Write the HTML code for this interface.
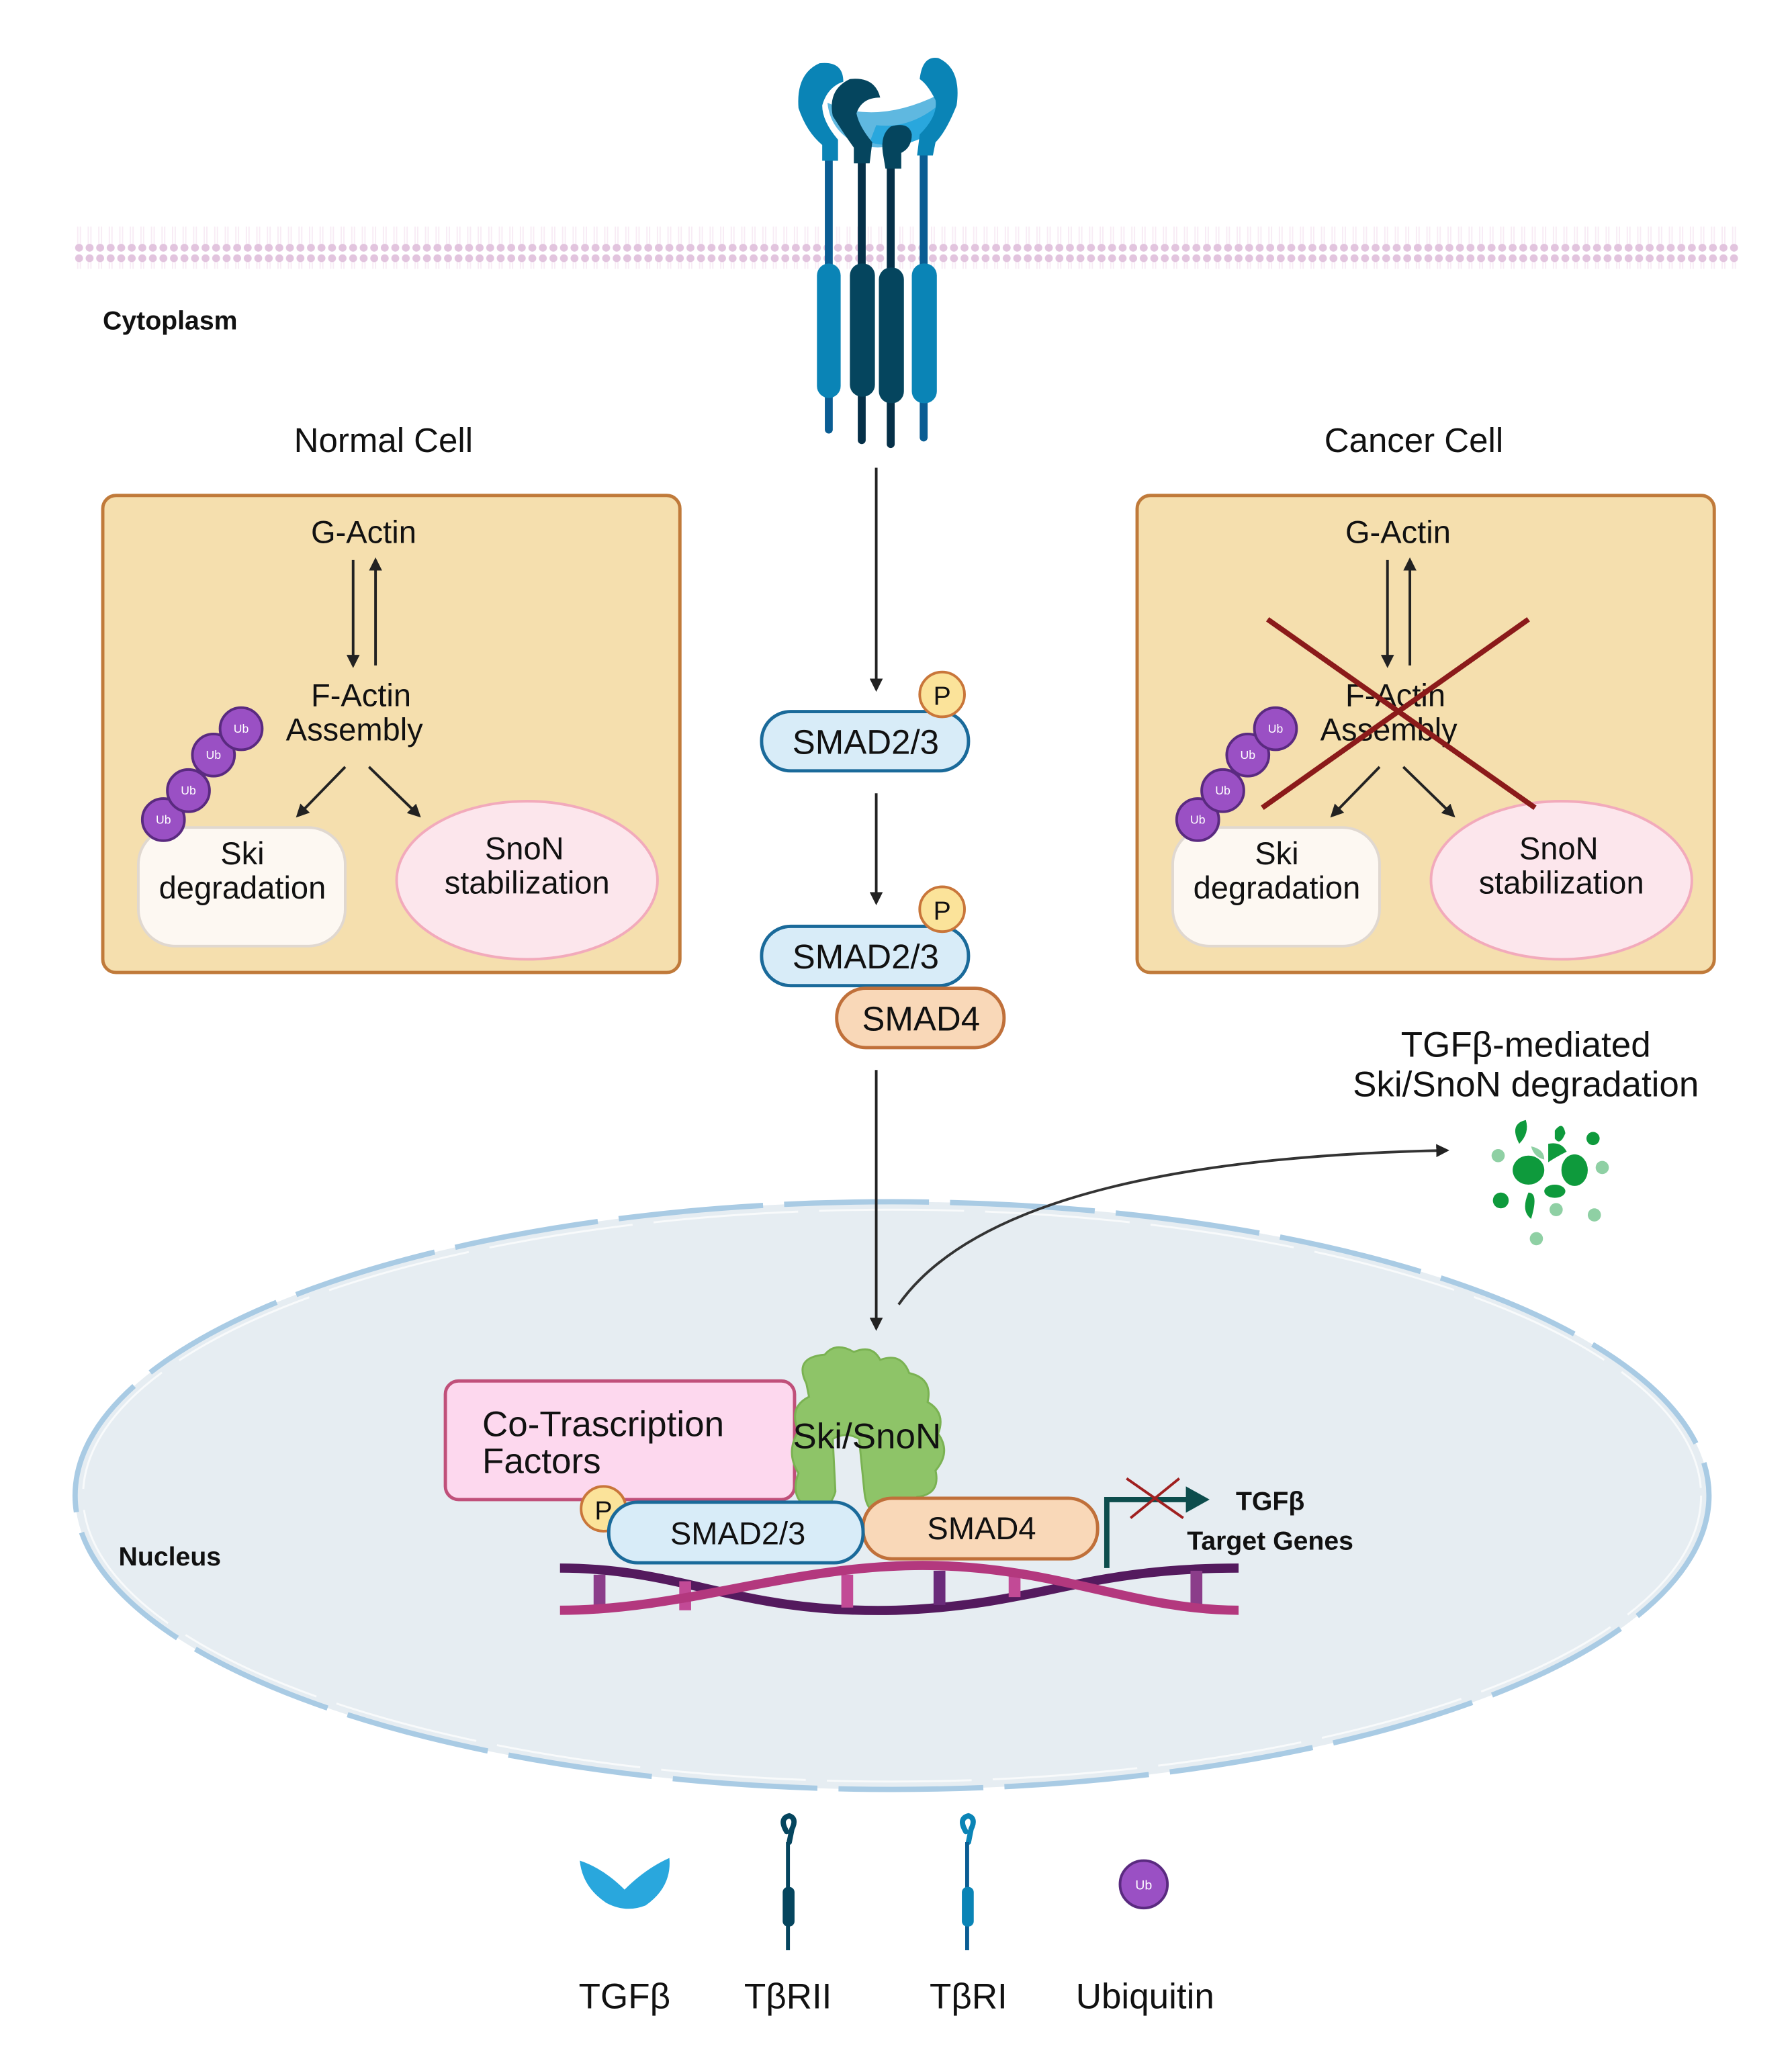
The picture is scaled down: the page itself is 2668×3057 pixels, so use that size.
<!DOCTYPE html>
<html><head><meta charset="utf-8"><style>
html,body{margin:0;padding:0;background:#fff}
svg{display:block}
text{font-family:"Liberation Sans",sans-serif;fill:#111}
</style></head><body>
<svg width="2668" height="3057" viewBox="0 0 1360 1558" preserveAspectRatio="none" xmlns="http://www.w3.org/2000/svg">
<defs>
<marker id="ah" markerWidth="10" markerHeight="10" refX="8" refY="5" orient="auto" markerUnits="userSpaceOnUse"><path d="M0,0 L10,5 L0,10 z" fill="#222"/></marker>
<pattern id="lip" width="8" height="32" patternUnits="userSpaceOnUse"><circle cx="4" cy="4" r="3" fill="#e2c4de"/><circle cx="4" cy="28" r="3" fill="#e2c4de"/><line x1="3" y1="7" x2="3" y2="25" stroke="#f8ecf5" stroke-width="1"/><line x1="5" y1="7" x2="5" y2="25" stroke="#f8ecf5" stroke-width="1"/></pattern>
</defs>
<!-- membrane -->
<rect x="55" y="172" width="1266" height="32" fill="url(#lip)"/>
<!-- receptor -->
<g stroke-linecap="round">
<line x1="629" y1="120" x2="629" y2="326" stroke="#0a5d93" stroke-width="6"/>
<line x1="701" y1="115" x2="701" y2="332" stroke="#0a5d93" stroke-width="6"/>
<line x1="654" y1="120" x2="654" y2="334" stroke="#053048" stroke-width="6"/>
<line x1="676" y1="125" x2="676" y2="337" stroke="#053048" stroke-width="6"/>
<rect x="620" y="200" width="18" height="102" rx="9" fill="#0a84b6"/>
<rect x="692" y="200" width="19" height="106" rx="9" fill="#0a84b6"/>
<rect x="645" y="200" width="19" height="101" rx="9" fill="#05455e"/>
<rect x="667" y="203" width="19" height="103" rx="9" fill="#05455e"/>
<path d="M628,78 Q665,95 712,72 Q716,92 700,102 Q670,118 648,108 Q630,98 628,78z" fill="#5fb8e0"/>
<path d="M665,95 Q690,98 712,80 L708,100 Q685,115 660,108z" fill="#29a7dd"/>
<path d="M622,48 Q604,56 606,82 Q612,100 624,110 L624,122 L636,122 L636,106 Q624,92 624,80 Q628,66 640,62 Q640,46 622,48z" fill="#0a84b6"/>
<path d="M712,44 Q730,52 726,80 Q718,100 710,108 L708,118 L696,118 L698,102 Q712,88 710,76 Q704,64 698,60 Q700,42 712,44z" fill="#0a84b6"/>
<path d="M645,60 Q628,68 632,88 Q642,104 648,112 L648,124 L660,124 L662,108 Q652,96 650,86 Q654,74 668,74 Q664,58 645,60z" fill="#05455e"/>
<path d="M676,96 Q668,102 670,116 L672,128 L684,128 L684,116 Q692,112 692,102 Q690,92 676,96z" fill="#05455e"/>
</g>
<text x="78" y="250" font-size="20" font-weight="bold">Cytoplasm</text>
<text x="291" y="343" font-size="26" text-anchor="middle">Normal Cell</text>
<text x="1073" y="343" font-size="26" text-anchor="middle">Cancer Cell</text>
<!-- panels -->
<g id="panel">
<rect x="78" y="376" width="438" height="362" rx="10" fill="#f5dfae" stroke="#c07a3a" stroke-width="2.5"/>
<text x="276" y="412" font-size="24" text-anchor="middle">G-Actin</text>
<line x1="268" y1="425" x2="268" y2="505" stroke="#222" stroke-width="2" marker-end="url(#ah)"/>
<line x1="285" y1="505" x2="285" y2="425" stroke="#222" stroke-width="2" marker-end="url(#ah)"/>
<text x="274" y="536" font-size="24" text-anchor="middle">F-Actin</text>
<text x="269" y="562" font-size="24" text-anchor="middle">Assembly</text>
<line x1="262" y1="582" x2="226" y2="619" stroke="#222" stroke-width="2" marker-end="url(#ah)"/>
<line x1="280" y1="582" x2="318" y2="619" stroke="#222" stroke-width="2" marker-end="url(#ah)"/>
<rect x="105" y="628" width="157" height="90" rx="28" fill="#fdf8f2" stroke="#e0d8d0" stroke-width="2"/>
<text x="184" y="656" font-size="24" text-anchor="middle">Ski</text>
<text x="184" y="682" font-size="24" text-anchor="middle">degradation</text>
<ellipse cx="400" cy="668" rx="99" ry="60" fill="#fce6ec" stroke="#f2aabb" stroke-width="2"/>
<text x="398" y="652" font-size="24" text-anchor="middle">SnoN</text>
<text x="400" y="678" font-size="24" text-anchor="middle">stabilization</text>
<g fill="#9a50c4" stroke="#5a2a80" stroke-width="2">
<circle cx="124" cy="622" r="16"/><circle cx="143" cy="600" r="16"/><circle cx="162" cy="573" r="16"/><circle cx="183" cy="553" r="16"/>
</g>
<g font-size="9" text-anchor="middle"><text x="124" y="625" style="fill:#fff">Ub</text><text x="143" y="603" style="fill:#fff">Ub</text><text x="162" y="576" style="fill:#fff">Ub</text><text x="183" y="556" style="fill:#fff">Ub</text></g>
</g>
<use href="#panel" x="785" y="0"/>
<line x1="962" y1="470" x2="1165" y2="613" stroke="#8b1a1a" stroke-width="4"/>
<line x1="1160" y1="470" x2="958" y2="613" stroke="#8b1a1a" stroke-width="4"/>
<!-- central pathway -->
<line x1="665" y1="355" x2="665" y2="523" stroke="#222" stroke-width="2" marker-end="url(#ah)"/>
<rect x="578" y="540" width="157" height="45" rx="22" fill="#d8ecf8" stroke="#1a6a9a" stroke-width="2.5"/>
<text x="657" y="572" font-size="26" text-anchor="middle">SMAD2/3</text>
<circle cx="715" cy="527" r="17" fill="#fbe39a" stroke="#c9763a" stroke-width="2"/>
<text x="715" y="535" font-size="20" text-anchor="middle">P</text>
<line x1="665" y1="602" x2="665" y2="685" stroke="#222" stroke-width="2" marker-end="url(#ah)"/>
<rect x="578" y="703" width="157" height="45" rx="22" fill="#d8ecf8" stroke="#1a6a9a" stroke-width="2.5"/>
<circle cx="715" cy="690" r="17" fill="#fbe39a" stroke="#c9763a" stroke-width="2"/>
<text x="715" y="698" font-size="20" text-anchor="middle">P</text>
<text x="657" y="735" font-size="26" text-anchor="middle">SMAD2/3</text>
<rect x="635" y="750" width="127" height="45" rx="22" fill="#f9d8b8" stroke="#c0703a" stroke-width="2.5"/>
<text x="699" y="782" font-size="26" text-anchor="middle">SMAD4</text>
<text x="1158" y="802" font-size="27" text-anchor="middle">TGFβ-mediated</text>
<text x="1158" y="832" font-size="27" text-anchor="middle">Ski/SnoN degradation</text>
<!-- nucleus -->
<ellipse cx="677" cy="1135" rx="620" ry="223" fill="#e6edf2"/>
<ellipse cx="677" cy="1135" rx="620" ry="223" fill="none" stroke="#a9cbe4" stroke-width="4" stroke-dasharray="110,16"/>
<ellipse cx="677" cy="1135" rx="614" ry="217" fill="none" stroke="#fff" stroke-width="1.5" stroke-dasharray="110,16" opacity=".7"/>
<line x1="665" y1="812" x2="665" y2="1008" stroke="#222" stroke-width="2" marker-end="url(#ah)"/>
<path d="M682,990 Q760,880 1098,873" fill="none" stroke="#333" stroke-width="2" marker-end="url(#ah)"/>
<!-- fragments -->
<g fill="#0e9a3c">
<path d="M1153,868 q-8,-15 5,-18 q3,10 -5,18z"/><path d="M1180,858 q6,-8 8,2 q-4,10 -8,4z"/>
<ellipse cx="1160" cy="888" rx="12" ry="11"/><ellipse cx="1195" cy="888" rx="10" ry="12"/>
<path d="M1175,868 q10,-2 14,6 q-8,4 -14,8z"/><ellipse cx="1180" cy="904" rx="8" ry="5"/>
<path d="M1160,905 q8,0 2,20 q-8,-6 -2,-20z"/><circle cx="1139" cy="911" r="6"/><circle cx="1209" cy="864" r="5"/>
</g>
<g fill="#8fd0a4"><path d="M1162,870 q10,2 10,10 q-8,-2 -10,-10z"/><circle cx="1137" cy="877" r="5"/><circle cx="1216" cy="886" r="5"/><circle cx="1181" cy="918" r="5"/><circle cx="1210" cy="922" r="5"/><circle cx="1166" cy="940" r="5"/></g>
<!-- DNA -->
<g fill="none">
<path d="M425,1190 C520,1190 560,1225 680,1222 C790,1218 820,1190 940,1190" stroke="#541a5e" stroke-width="7"/>
<g stroke-width="9">
<line x1="455" y1="1195" x2="455" y2="1220" stroke="#8b3d8a"/><line x1="520" y1="1200" x2="520" y2="1222" stroke="#c24a96"/>
<line x1="643" y1="1195" x2="643" y2="1220" stroke="#c24a96"/><line x1="713" y1="1192" x2="713" y2="1218" stroke="#6a2b7a"/>
<line x1="770" y1="1192" x2="770" y2="1212" stroke="#c24a96"/><line x1="908" y1="1192" x2="908" y2="1220" stroke="#8b3d8a"/>
</g>
<path d="M425,1222 C520,1222 600,1188 700,1188 C800,1188 860,1222 940,1222" stroke="#b3387e" stroke-width="7"/>
</g>
<!-- complex -->
<rect x="338" y="1048" width="265" height="90" rx="10" fill="#fdd8ee" stroke="#c0507a" stroke-width="2.5"/>
<text x="366" y="1090" font-size="27">Co-Trascription</text>
<text x="366" y="1118" font-size="27">Factors</text>
<g fill="#8ec468" stroke="#7ab252" stroke-width="1.5">
<path d="M612,1050 q-10,-20 14,-22 q8,-10 22,-2 q14,-6 20,6 q16,-6 22,10 q18,4 14,22 q14,8 8,24 q10,14 -2,28 q4,18 -14,20 q-8,16 -24,10 q-14,6 -16,-14 l-4,-40 q-10,-6 -20,0 l2,40 q-6,20 -24,10 q-10,-8 -4,-24 q-10,-16 0,-32 q-8,-18 8,-26z"/>
</g>
<text x="658" y="1099" font-size="27" text-anchor="middle">Ski/SnoN</text>
<rect x="655" y="1137" width="178" height="46" rx="22" fill="#f9d8b8" stroke="#c0703a" stroke-width="2.5"/>
<text x="745" y="1168" font-size="24" text-anchor="middle">SMAD4</text>
<circle cx="458" cy="1145" r="17" fill="#fbe39a" stroke="#c9763a" stroke-width="2"/>
<text x="458" y="1153" font-size="20" text-anchor="middle">P</text>
<rect x="462" y="1140" width="193" height="46" rx="22" fill="#d8ecf8" stroke="#1a6a9a" stroke-width="2.5"/>
<text x="560" y="1172" font-size="24" text-anchor="middle">SMAD2/3</text>
<path d="M840,1190 L840,1138 L905,1138" fill="none" stroke="#0d4d4d" stroke-width="4"/>
<path d="M900,1128 L918,1138 L900,1148z" fill="#0d4d4d"/>
<line x1="855" y1="1122" x2="898" y2="1152" stroke="#a02020" stroke-width="2"/>
<line x1="895" y1="1122" x2="858" y2="1152" stroke="#a02020" stroke-width="2"/>
<text x="964" y="1146" font-size="20" font-weight="bold" text-anchor="middle">TGFβ</text>
<text x="964" y="1176" font-size="20" font-weight="bold" text-anchor="middle">Target Genes</text>
<text x="90" y="1188" font-size="20" font-weight="bold">Nucleus</text>
<!-- legend -->
<path d="M440,1412 Q458,1418 474,1434 Q490,1418 508,1410 Q510,1432 490,1446 Q475,1452 460,1444 Q442,1432 440,1412z" fill="#29a7dd"/>
<path d="M597,1390 q-6,-10 2,-12 q6,2 2,10 l-2,10" fill="none" stroke="#05455e" stroke-width="4" stroke-linecap="round"/>
<line x1="598" y1="1398" x2="598" y2="1480" stroke="#05455e" stroke-width="3"/>
<rect x="594" y="1432" width="9" height="30" rx="4" fill="#05455e"/>
<path d="M733,1390 q-6,-10 2,-12 q6,2 2,10 l-2,10" fill="none" stroke="#0a84b6" stroke-width="4" stroke-linecap="round"/>
<line x1="734" y1="1398" x2="734" y2="1480" stroke="#0a5d93" stroke-width="3"/>
<rect x="730" y="1432" width="9" height="30" rx="4" fill="#0a84b6"/>
<circle cx="868" cy="1430" r="18" fill="#9a50c4" stroke="#5a2a80" stroke-width="2"/>
<text x="868" y="1434" font-size="10" text-anchor="middle" style="fill:#fff">Ub</text>
<text x="474" y="1524" font-size="27" text-anchor="middle">TGFβ</text>
<text x="598" y="1524" font-size="27" text-anchor="middle">TβRII</text>
<text x="735" y="1524" font-size="27" text-anchor="middle">TβRI</text>
<text x="869" y="1524" font-size="27" text-anchor="middle">Ubiquitin</text>
</svg>
</body></html>
